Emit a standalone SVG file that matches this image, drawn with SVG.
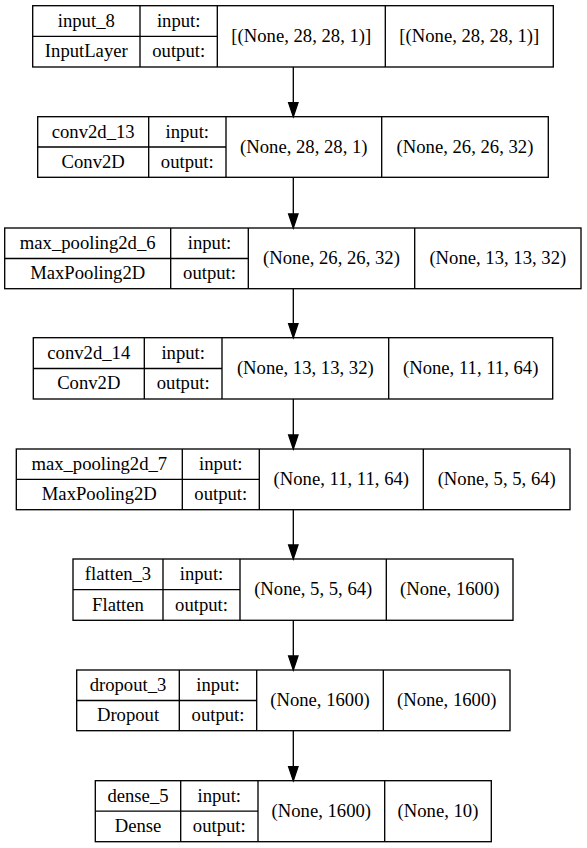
<svg xmlns="http://www.w3.org/2000/svg" width="587" height="848" viewBox="0 0 587 848">
<style>
.b{fill:none;stroke:#000;stroke-width:1.33}
.t{font-size:18.67px;fill:#000;text-anchor:middle}
.e{stroke:#000;stroke-width:1.33;fill:none}
.h{fill:#000;stroke:#000;stroke-width:1.33}
</style>
<rect width="587" height="848" fill="#fff"/>
<g font-family="Liberation Serif, Tinos, Times New Roman, DejaVu Serif, serif">
<g id="node1">
<rect class="b" x="32.7" y="5.7" width="520.6" height="61.3"/>
<path class="b" d="M140,5.7V67M217.3,5.7V67M385.3,5.7V67M32.7,36.3H217.3"/>
<text class="t" x="86.3" y="26.8">input_8</text>
<text class="t" x="86.3" y="57.4">InputLayer</text>
<text class="t" x="178.7" y="26.8">input:</text>
<text class="t" x="178.7" y="57.4">output:</text>
<text class="t" x="301.3" y="42">[(None, 28, 28, 1)]</text>
<text class="t" x="469.3" y="42">[(None, 28, 28, 1)]</text>
</g>
<g id="node2">
<rect class="b" x="37.7" y="116.7" width="510.6" height="60.6"/>
<path class="b" d="M148.7,116.7V177.3M226,116.7V177.3M381.7,116.7V177.3M37.7,147H226"/>
<text class="t" x="93.2" y="137.6">conv2d_13</text>
<text class="t" x="93.2" y="168">Conv2D</text>
<text class="t" x="187.3" y="137.6">input:</text>
<text class="t" x="187.3" y="168">output:</text>
<text class="t" x="303.8" y="152.8">(None, 28, 28, 1)</text>
<text class="t" x="465" y="152.8">(None, 26, 26, 32)</text>
</g>
<g id="node3">
<rect class="b" x="4.7" y="228" width="576.3" height="60.7"/>
<path class="b" d="M170.7,228V288.7M248.3,228V288.7M414.7,228V288.7M4.7,258.5H248.3"/>
<text class="t" x="87.7" y="249">max_pooling2d_6</text>
<text class="t" x="87.7" y="279.4">MaxPooling2D</text>
<text class="t" x="209.5" y="249">input:</text>
<text class="t" x="209.5" y="279.4">output:</text>
<text class="t" x="331.5" y="264.2">(None, 26, 26, 32)</text>
<text class="t" x="497.8" y="264.2">(None, 13, 13, 32)</text>
</g>
<g id="node4">
<rect class="b" x="33.3" y="337.7" width="519.4" height="61.3"/>
<path class="b" d="M144.3,337.7V399M222,337.7V399M388.7,337.7V399M33.3,368.5H222"/>
<text class="t" x="88.8" y="358.8">conv2d_14</text>
<text class="t" x="88.8" y="389.4">Conv2D</text>
<text class="t" x="183.2" y="358.8">input:</text>
<text class="t" x="183.2" y="389.4">output:</text>
<text class="t" x="305.3" y="374">(None, 13, 13, 32)</text>
<text class="t" x="470.7" y="374">(None, 11, 11, 64)</text>
</g>
<g id="node5">
<rect class="b" x="16.3" y="449" width="553.7" height="60.7"/>
<path class="b" d="M182.3,449V509.7M259.3,449V509.7M423.3,449V509.7M16.3,479.3H259.3"/>
<text class="t" x="99.3" y="470">max_pooling2d_7</text>
<text class="t" x="99.3" y="500.4">MaxPooling2D</text>
<text class="t" x="220.8" y="470">input:</text>
<text class="t" x="220.8" y="500.4">output:</text>
<text class="t" x="341.3" y="485.2">(None, 11, 11, 64)</text>
<text class="t" x="496.7" y="485.2">(None, 5, 5, 64)</text>
</g>
<g id="node6">
<rect class="b" x="73" y="559" width="440" height="61.3"/>
<path class="b" d="M163,559V620.3M240,559V620.3M386.3,559V620.3M73,589.7H240"/>
<text class="t" x="118" y="580.1">flatten_3</text>
<text class="t" x="118" y="610.7">Flatten</text>
<text class="t" x="201.5" y="580.1">input:</text>
<text class="t" x="201.5" y="610.7">output:</text>
<text class="t" x="313.2" y="595.4">(None, 5, 5, 64)</text>
<text class="t" x="449.7" y="595.4">(None, 1600)</text>
</g>
<g id="node7">
<rect class="b" x="76.7" y="670" width="433.3" height="60.7"/>
<path class="b" d="M179.3,670V730.7M256.7,670V730.7M383.3,670V730.7M76.7,700.5H256.7"/>
<text class="t" x="128" y="691">dropout_3</text>
<text class="t" x="128" y="721.4">Dropout</text>
<text class="t" x="218" y="691">input:</text>
<text class="t" x="218" y="721.4">output:</text>
<text class="t" x="320" y="706.2">(None, 1600)</text>
<text class="t" x="446.7" y="706.2">(None, 1600)</text>
</g>
<g id="node8">
<rect class="b" x="95.3" y="780.7" width="396" height="61"/>
<path class="b" d="M180.7,780.7V841.7M258,780.7V841.7M384.7,780.7V841.7M95.3,811.2H258"/>
<text class="t" x="138" y="801.8">dense_5</text>
<text class="t" x="138" y="832.3">Dense</text>
<text class="t" x="219.3" y="801.8">input:</text>
<text class="t" x="219.3" y="832.3">output:</text>
<text class="t" x="321.3" y="817">(None, 1600)</text>
<text class="t" x="438" y="817">(None, 10)</text>
</g>
</g>
<g id="edges">
<path class="e" d="M293.3,67V102.7M293.3,177.3V214M293.3,288.7V323.7M293.3,399V435M293.3,509.7V545M293.3,620.3V656M293.3,730.7V766.7"/>
<polygon class="h" points="288.6,102.7 298,102.7 293.3,116.7"/>
<polygon class="h" points="288.6,214 298,214 293.3,228"/>
<polygon class="h" points="288.6,323.7 298,323.7 293.3,337.7"/>
<polygon class="h" points="288.6,435 298,435 293.3,449"/>
<polygon class="h" points="288.6,545 298,545 293.3,559"/>
<polygon class="h" points="288.6,656 298,656 293.3,670"/>
<polygon class="h" points="288.6,766.7 298,766.7 293.3,780.7"/>
</g>
</svg>
